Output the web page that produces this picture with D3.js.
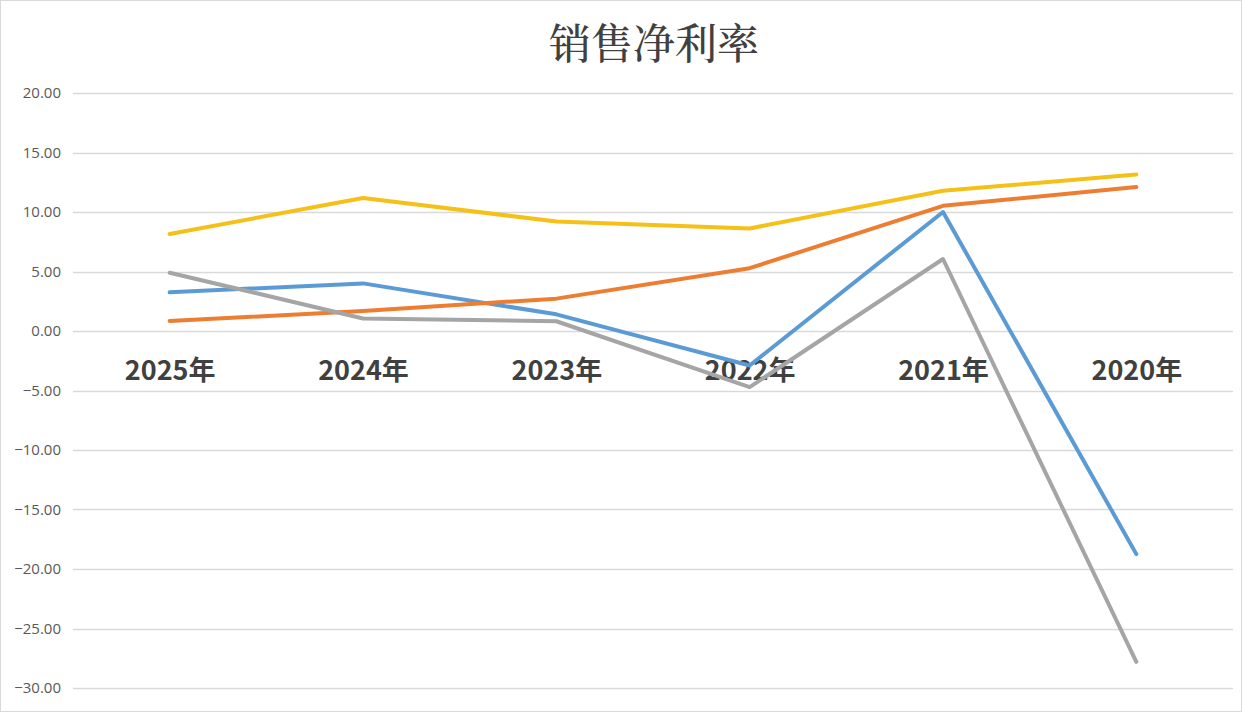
<!DOCTYPE html>
<html>
<head>
<meta charset="utf-8">
<script src="https://cdn.jsdelivr.net/npm/d3@7"></script>
<style>
  html, body { margin: 0; padding: 0; background: #fff; }
  svg { display: block; }
</style>
</head>
<body>
<svg id="chart" width="1242" height="712"></svg>
<script>
const title = "销售净利率";
const categories = ["2025年", "2024年", "2023年", "2022年", "2021年", "2020年"];
const seriesBlue   = [3.25, 4.00, 1.40, -2.90, 10.00, -18.75];
const seriesOrange = [0.84, 1.68, 2.72, 5.28, 10.52, 12.10];
const seriesGray   = [4.90, 1.05, 0.82, -4.72, 6.05, -27.80];
const seriesYellow = [8.15, 11.18, 9.20, 8.62, 11.78, 13.15];
const yTicks = [20, 15, 10, 5, 0, -5, -10, -15, -20, -25, -30];

const series = [
  { name: "s1", values: seriesBlue,   color: "#5b9bd5" },
  { name: "s2", values: seriesOrange, color: "#ed7d31" },
  { name: "s3", values: seriesGray,   color: "#a5a5a5" },
  { name: "s4", values: seriesYellow, color: "#f5c118" }
];

const W = 1242, H = 712;
const svg = d3.select("#chart");
const plot = { left: 73, right: 1233, top: 93, bottom: 688 };

svg.append("rect").attr("x", 0.5).attr("y", 0.5).attr("width", W - 1).attr("height", H - 1)
  .attr("fill", "#fff").attr("stroke", "#d9d9d9");

const x = d3.scalePoint().domain(categories).range([plot.left, plot.right]).padding(0.5);
const y = d3.scaleLinear().domain([-30, 20]).range([plot.bottom, plot.top]);

// gridlines
svg.append("g").selectAll("line").data(yTicks).join("line")
  .attr("x1", plot.left).attr("x2", plot.right)
  .attr("y1", d => Math.round(y(d)) + 0.5).attr("y2", d => Math.round(y(d)) + 0.5)
  .attr("stroke", "#d9d9d9").attr("stroke-width", 1.3);

// y axis labels
const yAxis = d3.axisLeft(y).tickValues(yTicks).tickFormat(d3.format(".2f")).tickSize(0).tickPadding(0);
const gy = svg.append("g").attr("transform", `translate(61,0)`).call(yAxis);
gy.select(".domain").remove();
gy.selectAll("text").attr("fill", "#595959").attr("font-size", 15)
  .attr("font-family", "'Open Sans', 'Noto Sans', sans-serif");

// x axis labels (at zero line)
const xAxis = d3.axisBottom(x).tickSize(0).tickPadding(0);
const gx = svg.append("g").attr("transform", `translate(0,${y(0)})`).call(xAxis);
gx.select(".domain").remove();
gx.selectAll("text").attr("fill", "#404040").attr("font-size", 27).attr("font-weight", "bold")
  .attr("font-family", "'Noto Sans CJK SC', 'Open Sans', sans-serif")
  .attr("dy", "1.8em");

// lines
const line = d3.line().x((d, i) => x(categories[i])).y(d => y(d));
svg.append("g").selectAll("path").data(series).join("path")
  .attr("d", d => line(d.values))
  .attr("fill", "none")
  .attr("stroke", d => d.color)
  .attr("stroke-width", 4)
  .attr("stroke-linejoin", "round")
  .attr("stroke-linecap", "round");

// title
svg.append("text").attr("x", 654).attr("y", 59).attr("text-anchor", "middle")
  .attr("font-size", 42).attr("font-weight", 500).attr("fill", "#404040")
  .attr("font-family", "'Noto Serif CJK SC', 'Noto Sans CJK SC', serif")
  .text(title);
</script>
</body>
</html>
